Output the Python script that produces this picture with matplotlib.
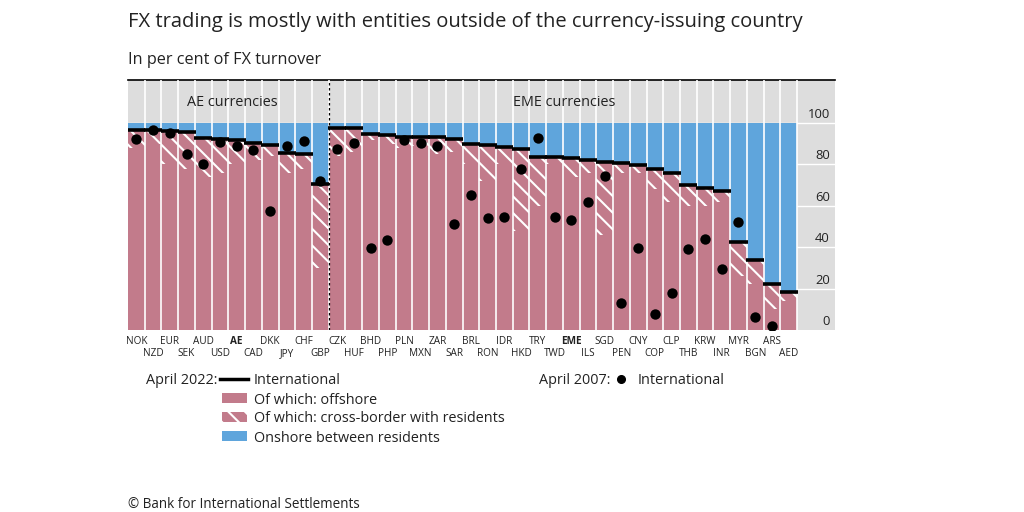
import numpy as np
import matplotlib.pyplot as plt
from matplotlib.patches import Rectangle
from matplotlib.lines import Line2D

ccys = ["NOK", "NZD", "EUR", "SEK", "AUD", "USD", "AE", "CAD", "DKK", "JPY",
        "CHF", "GBP", "CZK", "HUF", "BHD", "PHP", "PLN", "MXN", "ZAR", "SAR",
        "BRL", "RON", "IDR", "HKD", "TRY", "TWD", "EME", "ILS", "SGD", "PEN",
        "CNY", "COP", "CLP", "THB", "KRW", "INR", "MYR", "BGN", "ARS", "AED"]
# April 2022: international share (top of pink), of which offshore (solid pink)
intl_2022 = [96.5, 96.5, 96.0, 95.7, 92.9, 92.4, 91.6, 90.5, 89.2, 85.5,
             84.9, 70.7, 97.7, 97.7, 94.7, 94.2, 93.4, 93.4, 93.4, 92.1,
             89.9, 89.4, 88.6, 87.3, 83.7, 83.4, 83.0, 82.0, 81.3, 80.5,
             79.7, 78.0, 75.7, 70.0, 68.4, 67.3, 42.7, 33.8, 22.0, 18.5]
offshore_2022 = [88, 90, 80, 78, 74, 76, 80, 82, 84, 76,
                 78, 30, 84, 86, 92, 90, 88, 89, 85, 86,
                 80, 72, 80, 48, 60, 80, 74, 76, 46, 76,
                 76, 68, 62, 60, 60, 62, 26, 22, 10, 14]
# April 2007: international share (dots)
intl_2007 = [92.4, 96.8, 95.2, 84.9, 80.4, 91.0, 88.9, 86.8, 57.6, 88.9,
             91.2, 71.9, 87.5, 90.5, 39.6, 43.5, 91.8, 90.5, 88.9, 51.2,
             65.2, 54.1, 54.5, 77.7, 92.7, 54.5, 53.0, 62.0, 74.4, 13.2,
             39.6, 7.7, 17.8, 39.1, 44.0, 29.5, 52.3, 6.4, 2.0, np.nan]
bold_ccys = ["AE", "EME"]
yticks = [0, 20, 40, 60, 80, 100]
n_ae = 12

plt.rcParams['font.family'] = ['Open Sans', 'DejaVu Sans']
plt.rcParams['hatch.linewidth'] = 1.5

pink = '#c27b8b'
blue = '#5fa5dc'
grey = '#dddddd'
txt = '#222222'

W, H = 1024, 512
fig = plt.figure(figsize=(W / 100, H / 100), dpi=100)
ax = fig.add_axes([128 / W, 182 / H, 707 / W, 250 / H])
ax.set_facecolor(grey)

x = np.arange(len(ccys))
intl = np.array(intl_2022)
off = np.array(offshore_2022)
xmax = 42.27
ymax = 120.8

ax.hlines(yticks[1:], 0, xmax, color='white', lw=1, zorder=1)
ax.bar(x, 100 - intl, bottom=intl, width=1, align='edge', color=blue, lw=0, zorder=2)
ax.bar(x, off, width=1, align='edge', color=pink, lw=0, zorder=2)
ax.bar(x, intl - off, bottom=off, width=1, align='edge', color=pink,
       edgecolor='white', hatch='\\\\', lw=0, zorder=2)
ax.vlines(np.arange(1, len(ccys) + 1), 0, ymax, color='white', lw=1.2, zorder=3)
ax.axvline(n_ae, color='black', ls=(0, (2, 2)), lw=0.9, zorder=4)
ax.hlines(intl, x - 0.04, x + 1.04, color='black', lw=2.6, zorder=5)
ax.scatter(x + 0.5, intl_2007, s=56, color='black', zorder=6, lw=0)

ax.set_xlim(0, xmax)
ax.set_ylim(0, ymax)
ax.set_xticks([])
ax.set_yticks([])
for s in ['left', 'right', 'bottom']:
    ax.spines[s].set_visible(False)
ax.spines['top'].set_color('black')
ax.spines['top'].set_linewidth(1.2)

for v in yticks:
    ax.text(41.97, v + 1.0, str(v), ha='right', va='bottom', fontsize=9.4, color=txt)

xt = ax.get_xaxis_transform()
for i, c in enumerate(ccys):
    yy = -0.046 if i % 2 == 0 else -0.094
    ax.text(i + 0.5, yy, c, transform=xt, ha='center', va='center', fontsize=7.2,
            color=txt, fontweight='bold' if c in bold_ccys else 'normal')

ax.text(6.22, 110.0, "AE currencies", ha='center', va='center', fontsize=10.4, color=txt)
ax.text(26.07, 110.0, "EME currencies", ha='center', va='center', fontsize=10.4, color=txt)


def fx(p):
    return p / W


def fy(p):
    return 1 - p / H


fig.text(fx(128), fy(22), "FX trading is mostly with entities outside of the currency-issuing country",
         ha='left', va='center', fontsize=14.5, color=txt)
fig.text(fx(128), fy(60), "In per cent of FX turnover", ha='left', va='center', fontsize=11.7, color=txt)
fig.text(fx(128), fy(505), "\u00a9 Bank for International Settlements", ha='left', va='center',
         fontsize=9.75, color=txt)

# legend
fs = 10.4
fig.text(fx(217), fy(381), "April 2022:", ha='right', va='center', fontsize=fs, color=txt)
fig.add_artist(Line2D([fx(220), fx(248)], [fy(379), fy(379)], color='black', lw=2.5,
                      transform=fig.transFigure))
fig.text(fx(254), fy(381), "International", ha='left', va='center', fontsize=fs, color=txt)
rows = [(398, "Of which: offshore", pink, None),
        (417, "Of which: cross-border with residents", pink, '\\\\'),
        (436, "Onshore between residents", blue, None)]
for yy, lab, col, h in rows:
    fig.add_artist(Rectangle((fx(222), fy(yy + 5)), fx(25), 10 / H, facecolor=col,
                             edgecolor='white', hatch=h, lw=0, transform=fig.transFigure))
    fig.text(fx(254), fy(yy + 2), lab, ha='left', va='center', fontsize=fs, color=txt)
fig.text(fx(610), fy(381), "April 2007:", ha='right', va='center', fontsize=fs, color=txt)
fig.add_artist(Line2D([fx(621)], [fy(379)], marker='o', ms=5.5, color='black', lw=0,
                      transform=fig.transFigure))
fig.text(fx(638), fy(381), "International", ha='left', va='center', fontsize=fs, color=txt)

fig.savefig("out.png", dpi=100, facecolor='white')
